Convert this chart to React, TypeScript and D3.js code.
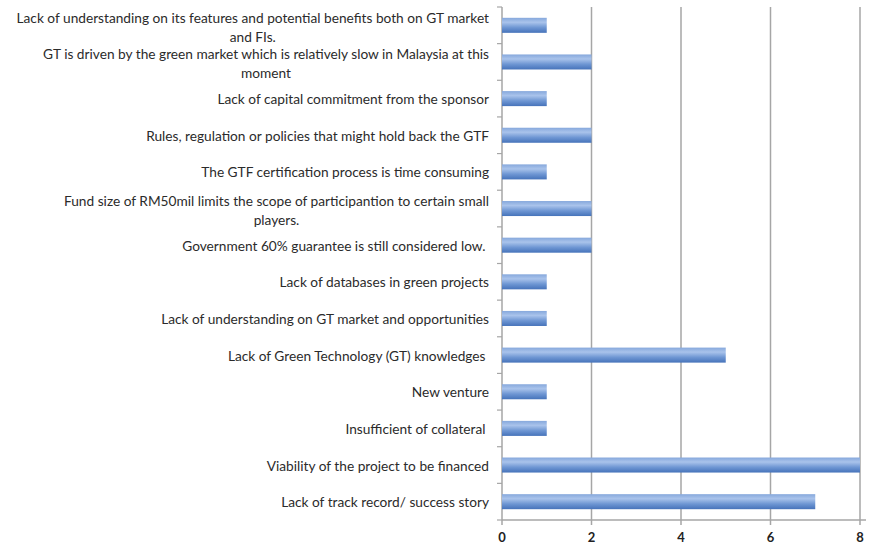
import React, { useEffect, useRef } from "react";
import * as d3 from "d3";

const categories: string[] = [
  "Lack of understanding on its features and potential benefits both on GT market\nand FIs.",
  "GT is driven by the green market which is relatively slow in Malaysia at this\nmoment",
  "Lack of capital commitment from the sponsor",
  "Rules, regulation or policies that might hold back the GTF",
  "The GTF certification process is time consuming",
  "Fund size of RM50mil limits the scope of participantion to certain small\nplayers.",
  "Government 60% guarantee is still considered low. ",
  "Lack of databases in green projects",
  "Lack of understanding on GT market and opportunities",
  "Lack of Green Technology (GT) knowledges ",
  "New venture",
  "Insufficient of collateral ",
  "Viability of the project to be financed",
  "Lack of track record/ success story",
];
const values: number[] = [1, 2, 1, 2, 1, 2, 2, 1, 1, 5, 1, 1, 8, 7];
const xTicks: number[] = [0, 2, 4, 6, 8];

const W = 872;
const H = 547;
const margin = { left: 502, right: 12, top: 7, bottom: 27 };

export default function App() {
  const ref = useRef<SVGSVGElement>(null);

  useEffect(() => {
    const svg = d3.select(ref.current);
    svg.selectAll("*").remove();

    const x = d3.scaleLinear().domain([0, 8]).range([margin.left, W - margin.right]);
    const y = d3
      .scaleBand<number>()
      .domain(d3.range(categories.length))
      .range([margin.top, H - margin.bottom])
      .paddingInner(0.59)
      .paddingOuter(0.295);
    const step = y.step();
    const bandTop = (i: number) => margin.top + i * step;
    const bottom = H - margin.bottom;

    const defs = svg.append("defs");
    const grad = defs
      .append("linearGradient")
      .attr("id", "barGrad")
      .attr("x1", 0)
      .attr("y1", 0)
      .attr("x2", 0)
      .attr("y2", 1);
    grad.append("stop").attr("offset", "0").attr("stop-color", "#86a8dc");
    grad.append("stop").attr("offset", "0.3").attr("stop-color", "#a9c3eb");
    grad.append("stop").attr("offset", "0.65").attr("stop-color", "#6e96d3");
    grad.append("stop").attr("offset", "1").attr("stop-color", "#4673ba");

    // gridlines
    svg
      .append("g")
      .selectAll("line")
      .data(xTicks.filter((t) => t > 0))
      .join("line")
      .attr("x1", (d) => x(d))
      .attr("x2", (d) => x(d))
      .attr("y1", margin.top)
      .attr("y2", bottom + 5)
      .attr("stroke", "#a6a6a6")
      .attr("stroke-width", 1.5);

    // left axis
    const axisG = svg.append("g");
    axisG
      .append("line")
      .attr("x1", x(0))
      .attr("x2", x(0))
      .attr("y1", margin.top)
      .attr("y2", bottom + 5)
      .attr("stroke", "#a6a6a6")
      .attr("stroke-width", 1.5);
    axisG
      .selectAll("line.ytick")
      .data(d3.range(categories.length + 1))
      .join("line")
      .attr("class", "ytick")
      .attr("x1", x(0) - 5)
      .attr("x2", x(0))
      .attr("y1", (d) => bandTop(d))
      .attr("y2", (d) => bandTop(d))
      .attr("stroke", "#a6a6a6")
      .attr("stroke-width", 1.2);
    axisG
      .append("line")
      .attr("x1", x(0))
      .attr("x2", W - margin.right + 6)
      .attr("y1", bottom)
      .attr("y2", bottom)
      .attr("stroke", "#a6a6a6")
      .attr("stroke-width", 1.5);

    // bars
    svg
      .append("g")
      .selectAll("rect")
      .data(values)
      .join("rect")
      .attr("x", x(0))
      .attr("y", (_, i) => y(i) as number)
      .attr("width", (d) => x(d) - x(0))
      .attr("height", y.bandwidth())
      .attr("fill", "url(#barGrad)");

    // x tick labels
    svg
      .append("g")
      .selectAll("text")
      .data(xTicks)
      .join("text")
      .attr("x", (d) => x(d))
      .attr("y", bottom + 17)
      .attr("text-anchor", "middle")
      .attr("dominant-baseline", "central")
      .attr("font-family", "Lato, 'Open Sans', sans-serif")
      .attr("font-weight", "bold")
      .attr("font-size", 13)
      .attr("fill", "#222")
      .text((d) => String(d));

    // category labels
    const labelRight = x(0) - 13;
    const lg = svg.append("g");
    categories.forEach((cat, i) => {
      const lines = cat.split("\n");
      const cy = bandTop(i) + step / 2 + (lines.length > 1 ? 1.5 : 0);
      const lh = 19;
      const texts = lines.map((ln, j) =>
        lg
          .append("text")
          .attr("y", cy + (j - (lines.length - 1) / 2) * lh)
          .attr("dominant-baseline", "central")
          .attr("font-family", "Lato, 'Open Sans', sans-serif")
          .attr("font-size", 13.7)
          .attr("fill", "#2b2b2b")
          .style("white-space", "pre")
          .text(ln)
      );
      const widths = texts.map((t) => (t.node() as SVGTextElement).getComputedTextLength());
      const maxW = Math.max(...widths);
      const center = labelRight - maxW / 2;
      texts.forEach((t) => t.attr("x", center).attr("text-anchor", "middle"));
    });
  }, []);

  return (
    <svg
      ref={ref}
      width={W}
      height={H}
      style={{ position: "absolute", left: 0, top: 0, background: "#fff" }}
    />
  );
}
